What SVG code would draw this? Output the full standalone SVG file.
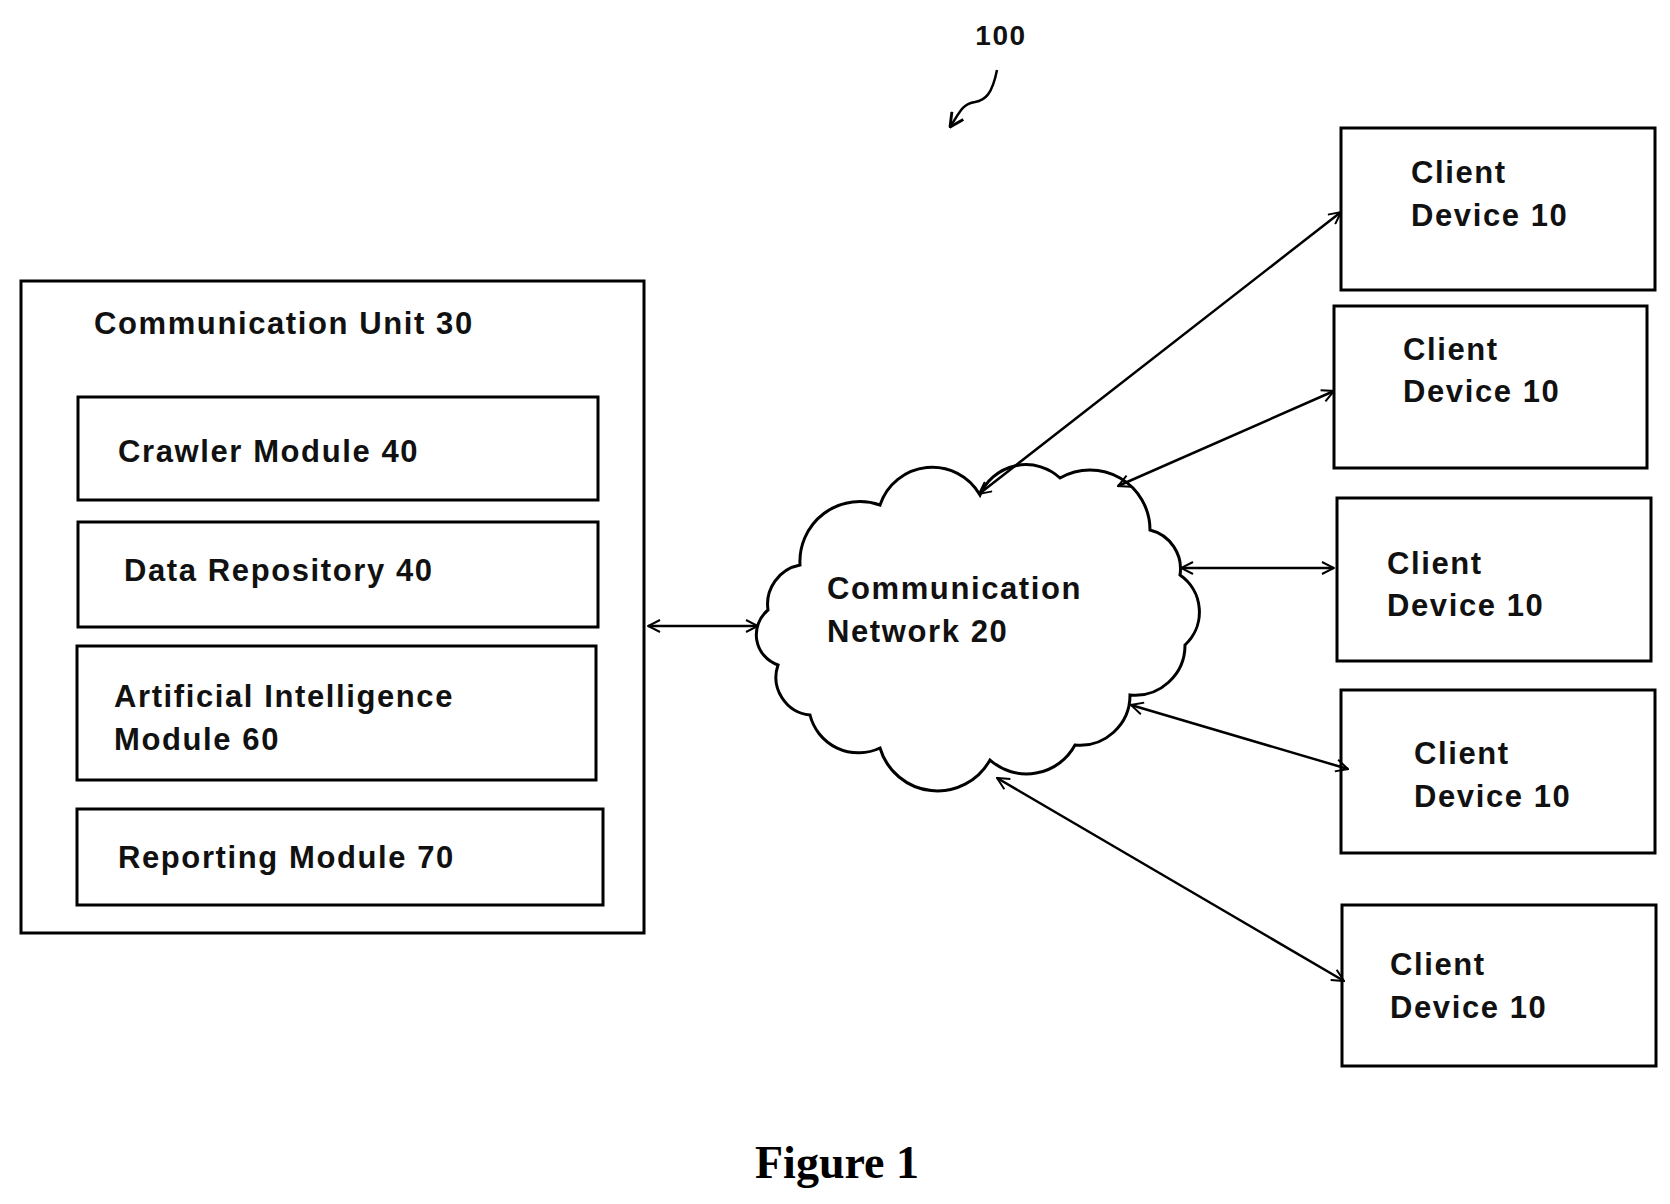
<svg xmlns="http://www.w3.org/2000/svg" width="1670" height="1204" viewBox="0 0 1670 1204">
<style>
.box{fill:#fff;stroke:#000;stroke-width:3}
.t{font-family:"Liberation Sans",Arial,sans-serif;font-size:31px;font-weight:bold;letter-spacing:1.6px;fill:#111}
.c{stroke:#000;stroke-width:2.5;fill:none;marker-start:url(#a);marker-end:url(#a)}
</style>
<defs>
<marker id="a" viewBox="0 0 14 14" refX="13" refY="7" markerWidth="14" markerHeight="14" markerUnits="userSpaceOnUse" orient="auto-start-reverse">
<path d="M1,1 L13,7 L1,13" fill="none" stroke="#000" stroke-width="2"/>
</marker>
<marker id="b" viewBox="0 0 14 14" refX="13" refY="7" markerWidth="16" markerHeight="16" markerUnits="userSpaceOnUse" orient="auto">
<path d="M1,1 L13,7 L1,13" fill="none" stroke="#000" stroke-width="2.5"/>
</marker>
</defs>
<rect width="1670" height="1204" fill="#fff"/>
<g id="unit30"><rect class="box" x="21" y="281" width="623" height="652"/><text class="t" x="94" y="334">Communication Unit 30</text></g>
<g id="crawler"><rect class="box" x="78" y="397" width="520" height="103"/><text class="t" x="118" y="462">Crawler Module 40</text></g>
<g id="repo"><rect class="box" x="78" y="522" width="520" height="105"/><text class="t" x="124" y="581">Data Repository 40</text></g>
<g id="ai"><rect class="box" x="77" y="646" width="519" height="134"/><text class="t" x="114" y="707">Artificial Intelligence</text><text class="t" x="114" y="750">Module 60</text></g>
<g id="report"><rect class="box" x="77" y="809" width="526" height="96"/><text class="t" x="118" y="868">Reporting Module 70</text></g>
<g id="network"><path class="box" d="M768,610 A40,40 0 0 1 800,565 A60,60 0 0 1 880,505 A55,55 0 0 1 980,495 A50,50 0 0 1 1060,478 A60,60 0 0 1 1150,530 A40,40 0 0 1 1180,575 A45,45 0 0 1 1185,645 A50,50 0 0 1 1130,695 A50,50 0 0 1 1075,745 A55,55 0 0 1 990,760 A60,60 0 0 1 880,748 A50,50 0 0 1 810,715 A38,38 0 0 1 778,665 A32,32 0 0 1 768,610 Z"/><text class="t" x="827" y="599">Communication</text><text class="t" x="827" y="642">Network 20</text></g>
<g id="client1"><rect class="box" x="1341" y="128" width="314" height="162"/><text class="t" x="1411" y="183">Client</text><text class="t" x="1411" y="226">Device 10</text></g>
<g id="client2"><rect class="box" x="1334" y="306" width="313" height="162"/><text class="t" x="1403" y="360">Client</text><text class="t" x="1403" y="402">Device 10</text></g>
<g id="client3"><rect class="box" x="1337" y="498" width="314" height="163"/><text class="t" x="1387" y="574">Client</text><text class="t" x="1387" y="616">Device 10</text></g>
<g id="client4"><rect class="box" x="1341" y="690" width="314" height="163"/><text class="t" x="1414" y="764">Client</text><text class="t" x="1414" y="807">Device 10</text></g>
<g id="client5"><rect class="box" x="1342" y="905" width="314" height="161"/><text class="t" x="1390" y="975">Client</text><text class="t" x="1390" y="1018">Device 10</text></g>
<g id="connectors">
<line class="c" x1="648" y1="626" x2="758" y2="626"/>
<line class="c" x1="979" y1="494" x2="1341" y2="212"/>
<line class="c" x1="1118" y1="486" x2="1334" y2="391"/>
<line class="c" x1="1181" y1="568" x2="1334" y2="568"/>
<line class="c" x1="1131" y1="705" x2="1348" y2="769"/>
<line class="c" x1="997" y1="778" x2="1344" y2="981"/>
<path d="M997,70 C992,95 985,100 975,102 C962,104 960,112 950,127" fill="none" stroke="#000" stroke-width="2.5" marker-end="url(#b)"/>
</g>
<text class="t" x="1001" y="45" text-anchor="middle" style="font-size:28px">100</text>
<text x="837" y="1178" text-anchor="middle" style="font-family:'Liberation Serif','Times New Roman',serif;font-size:46px;font-weight:bold">Figure 1</text>
</svg>
